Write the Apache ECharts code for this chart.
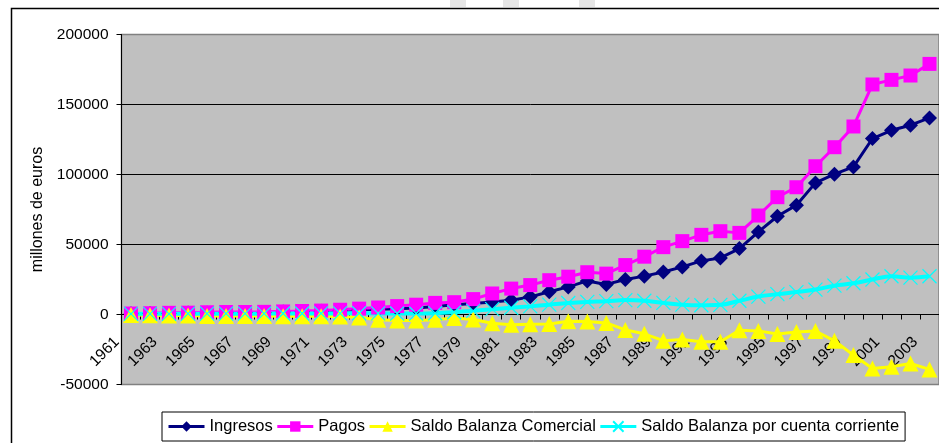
<!DOCTYPE html>
<html>
<head>
<meta charset="utf-8">
<script src="https://cdn.jsdelivr.net/npm/echarts@6/dist/echarts.min.js"></script>
<style>
html,body{margin:0;padding:0;background:#fff;}
#chart{width:939px;height:443px;}
</style>
</head>
<body>
<div id="chart"></div>
<script>
const years = [];
for (let y = 1961; y <= 2003; y++) years.push(String(y));

const ingresos = [500,650,800,1000,1100,1300,1350,1500,1700,2000,
  2400,2900,3400,3800,4100,4700,5800,6900,7800,9000,
  10200,12600,16200,19700,24000,21500,25000,27400,30400,34000,
  38300,40400,47100,59000,70200,78100,94000,100200,105400,125700,
  131600,135200,140400];
const pagos = [700,900,1200,1300,1600,1800,1800,1900,2200,2500,
  2800,3400,4200,5000,6000,7000,8300,8800,11000,15000,
  18500,21000,24500,27000,30200,29200,35300,41300,48100,52400,
  56900,59500,58300,70700,83800,90900,105900,119500,134300,164300,
  167600,170700,179000];
const saldoComercial = [-300,-500,-700,-700,-1000,-1100,-1000,-1000,-1200,-1300,
  -1200,-1500,-2200,-3800,-4200,-4300,-3800,-2500,-3600,-6300,
  -7300,-7000,-6800,-4900,-5000,-6000,-11000,-13800,-18700,-17800,
  -19500,-19500,-11300,-11700,-14000,-12500,-11800,-18800,-29000,-38500,
  -37300,-35000,-39200];
const saldoCuentaCorriente = [400,500,500,600,600,600,600,600,700,700,
  800,800,900,800,700,700,900,1600,2600,3800,
  4800,5800,7000,8200,9000,9500,10300,9800,8300,7000,
  6600,6900,9800,12800,14500,16000,17800,20600,22300,25000,
  27300,26300,27300];

const seriesNames = ['Ingresos','Pagos','Saldo Balanza Comercial','Saldo Balanza por cuenta corriente'];
const yTicks = {min:-50000, max:200000, interval:50000};

const FONT = 'Liberation Sans, Arial, sans-serif';
const chart = echarts.init(document.getElementById('chart'), null, {renderer:'canvas'});

const gridTop = 34.5, gridHeight = 350;
// offset of the category axis so that it sits on the value 0
const zeroOffset = -gridHeight * (0 - yTicks.min) / (yTicks.max - yTicks.min);

const option = {
  animation: false,
  backgroundColor: '#ffffff',
  textStyle: {fontFamily: FONT},
  grid: {
    left: 121.5, top: gridTop, width: 819, height: gridHeight,
    show: true, backgroundColor: '#C0C0C0', borderColor: '#808080', borderWidth: 1.5,
    containLabel: false
  },
  legend: {
    left: 162, top: 412,
    data: seriesNames,
    itemWidth: 36, itemHeight: 13, itemGap: 3,
    padding: [6, 6, 6, 5],
    lineStyle: {width: 3},
    backgroundColor: '#ffffff', borderColor: '#000000', borderWidth: 1,
    textStyle: {fontFamily: FONT, fontSize: 16.5, color: '#000'}
  },
  xAxis: {
    type: 'category',
    data: years,
    boundaryGap: true,
    offset: zeroOffset,
    z: 0,
    axisLine: {onZero: false, lineStyle: {color: '#000', width: 1}},
    axisTick: {show: true, interval: 0, length: 5, lineStyle: {color: '#000'}},
    axisLabel: {interval: 1, rotate: 45, margin: 11, padding: [0, 20, 0, 0],
      fontFamily: FONT, fontSize: 15.5, color: '#000'},
    splitLine: {show: false}
  },
  yAxis: {
    type: 'value',
    min: yTicks.min, max: yTicks.max, interval: yTicks.interval,
    name: 'millones de euros', nameLocation: 'middle', nameGap: 71,
    nameTextStyle: {fontFamily: FONT, fontSize: 16, color: '#000'},
    axisLine: {show: true, onZero: false, lineStyle: {color: '#000', width: 1}},
    axisTick: {show: true, length: 5, lineStyle: {color: '#000'}},
    axisLabel: {margin: 13, fontFamily: FONT, fontSize: 15.5, color: '#000',
      formatter: function (v) { return String(v); }},
    splitLine: {show: true, lineStyle: {color: ['#808080','#000','#000','#000','#000','#808080'], width: 1}}
  },
  graphic: [
    {type:'rect', shape:{x:450, y:0, width:16, height:7}, style:{fill:'#e6e6e6'}, z:100},
    {type:'rect', shape:{x:503, y:0, width:16, height:7}, style:{fill:'#e6e6e6'}, z:100},
    {type:'rect', shape:{x:579, y:0, width:16, height:7}, style:{fill:'#e6e6e6'}, z:100},
    {type:'rect', shape:{x:11.5, y:8.5, width:1000, height:1000}, style:{fill:'none', stroke:'#000', lineWidth:1.5}, z:100, silent:true}
  ],
  series: [
    {
      name: seriesNames[0], type: 'line', data: ingresos,
      symbol: 'diamond', symbolSize: 15, showAllSymbol: true,
      lineStyle: {color: '#000080', width: 3},
      itemStyle: {color: '#000080'}
    },
    {
      name: seriesNames[1], type: 'line', data: pagos,
      symbol: 'rect', symbolSize: 14, showAllSymbol: true,
      lineStyle: {color: '#FF00FF', width: 3},
      itemStyle: {color: '#FF00FF'}
    },
    {
      name: seriesNames[2], type: 'line', data: saldoComercial,
      symbol: 'triangle', symbolSize: 16, showAllSymbol: true,
      lineStyle: {color: '#FFFF00', width: 3},
      itemStyle: {color: '#FFFF00'}
    },
    {
      name: seriesNames[3], type: 'line', data: saldoCuentaCorriente,
      symbol: 'path://M0,0L10,10M10,0L0,10', symbolSize: 14, showAllSymbol: true,
      smooth: 0.4,
      lineStyle: {color: '#00FFFF', width: 4},
      itemStyle: {color: 'rgba(0,0,0,0)', borderColor: '#00FFFF', borderWidth: 1.2}
    }
  ]
};
chart.setOption(option);
</script>
</body>
</html>
